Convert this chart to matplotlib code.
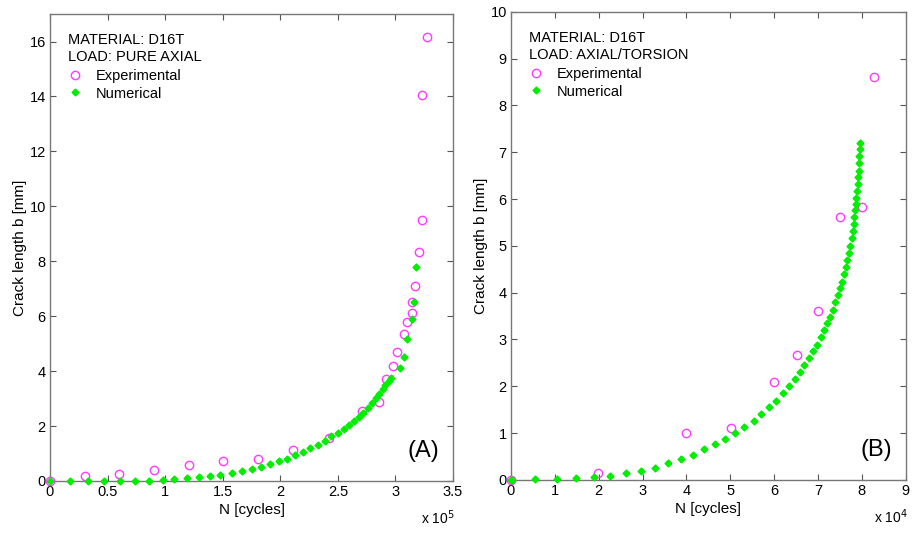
import matplotlib.pyplot as plt

plt.rcParams['font.family'] = ['Liberation Sans', 'DejaVu Sans']

# ===== Panel A: pure axial (N in units of 1e5 cycles) =====
a_exp_n = [0.0, 0.307, 0.60, 0.905, 1.21, 1.50, 1.81, 2.11, 2.42, 2.71, 2.86,
           2.92, 2.98, 3.01, 3.07, 3.10, 3.14, 3.14, 3.17, 3.20, 3.23, 3.23, 3.27]
a_exp_b = [0.0, 0.17, 0.27, 0.41, 0.57, 0.74, 0.81, 1.14, 1.58, 2.56, 2.89,
           3.71, 4.20, 4.69, 5.35, 5.77, 6.11, 6.51, 7.11, 8.33, 9.50, 14.05, 16.18]

a_num_n = [0.0, 0.17, 0.33, 0.47, 0.61, 0.74, 0.86, 0.98, 1.08, 1.19, 1.29, 1.39,
           1.48, 1.58, 1.67, 1.75, 1.83, 1.91, 1.99, 2.06, 2.13, 2.20, 2.26, 2.33,
           2.39, 2.44, 2.50, 2.55, 2.60, 2.64, 2.68, 2.72, 2.76, 2.80, 2.83, 2.86,
           2.89, 2.91, 2.94, 2.96, 3.04, 3.07, 3.10, 3.14, 3.16, 3.18]
a_num_b = [0.0, 0.0, 0.0, 0.0, 0.0, 0.0, 0.01, 0.04, 0.07, 0.11, 0.13, 0.17,
           0.23, 0.29, 0.35, 0.42, 0.51, 0.61, 0.72, 0.80, 0.93, 1.07, 1.19, 1.32,
           1.47, 1.63, 1.76, 1.90, 2.05, 2.20, 2.32, 2.49, 2.67, 2.84, 3.01, 3.18,
           3.35, 3.51, 3.63, 3.74, 4.10, 4.50, 5.17, 5.90, 6.51, 7.80]

# ===== Panel B: axial/torsion (N in units of 1e4 cycles) =====
b_exp_n = [0.0, 1.99, 4.00, 5.01, 6.00, 6.51, 7.01, 7.51, 8.01, 8.27]
b_exp_b = [0.0, 0.15, 1.00, 1.10, 2.10, 2.67, 3.61, 5.61, 5.84, 8.60]

b_num_n = [0.0, 0.02, 0.56, 1.04, 1.48, 1.89, 2.26, 2.62, 2.96, 3.29, 3.59, 3.88,
           4.16, 4.41, 4.66, 4.89, 5.11, 5.32, 5.53, 5.71, 5.89, 6.05, 6.20, 6.34,
           6.47, 6.59, 6.69, 6.80, 6.89, 6.98, 7.07, 7.14, 7.21, 7.27, 7.33, 7.39,
           7.45, 7.49, 7.54, 7.59, 7.63, 7.66, 7.70, 7.74, 7.77, 7.79, 7.81, 7.83,
           7.85, 7.86, 7.87, 7.89, 7.90, 7.91, 7.93, 7.93, 7.94, 7.95, 7.96]
b_num_b = [0.0, 0.0, 0.01, 0.02, 0.04, 0.06, 0.09, 0.14, 0.19, 0.26, 0.36, 0.44,
           0.54, 0.65, 0.76, 0.87, 1.00, 1.12, 1.25, 1.40, 1.55, 1.69, 1.85, 2.00,
           2.15, 2.30, 2.45, 2.60, 2.76, 2.89, 3.05, 3.20, 3.35, 3.49, 3.64, 3.81,
           3.96, 4.09, 4.23, 4.39, 4.55, 4.70, 4.85, 5.00, 5.17, 5.31, 5.46, 5.62,
           5.76, 5.90, 6.03, 6.17, 6.32, 6.47, 6.61, 6.77, 6.93, 7.08, 7.20]

a_xticks = [0, 0.5, 1, 1.5, 2, 2.5, 3, 3.5]
a_yticks = [0, 2, 4, 6, 8, 10, 12, 14, 16]
b_xticks = [0, 1, 2, 3, 4, 5, 6, 7, 8, 9]
b_yticks = [0, 1, 2, 3, 4, 5, 6, 7, 8, 9, 10]

mag = '#ff3cff'
grn = '#00ee00'

fig = plt.figure(figsize=(9.14, 5.41), dpi=100)
ax1 = fig.add_axes([0.0547, 0.111, 0.441, 0.863])
ax2 = fig.add_axes([0.559, 0.113, 0.432, 0.865])


def style(ax, exp_n, exp_b, num_n, num_b, xticks, yticks, xlim, ylim,
          load, tag, power):
    ax.plot(exp_n, exp_b, 'o', ls='none', mfc='none', mec=mag, ms=6, mew=1.0,
            label='Experimental', clip_on=False, zorder=3)
    ax.plot(num_n, num_b, 'D', ls='none', mfc=grn, mec=grn, ms=3.5,
            label='Numerical', clip_on=False, zorder=4)
    ax.set_xlim(*xlim)
    ax.set_ylim(*ylim)
    ax.set_xticks(xticks)
    ax.set_xticklabels([f'{t:g}' for t in xticks])
    ax.set_yticks(yticks)
    ax.set_yticklabels([f'{t:g}' for t in yticks])
    ax.tick_params(direction='in', top=True, right=True, length=4,
                   color='#555555', labelsize=10.5, pad=3)
    for s in ax.spines.values():
        s.set_color('#777777')
        s.set_linewidth(1.0)
    ax.set_xlabel('N [cycles]', fontsize=11, labelpad=3)
    ax.set_ylabel('Crack length b [mm]', fontsize=11, labelpad=2)
    ax.text(0.045, 0.945, 'MATERIAL: D16T', transform=ax.transAxes,
            fontsize=10.5, va='center')
    ax.text(0.045, 0.907, 'LOAD: ' + load, transform=ax.transAxes,
            fontsize=10.5, va='center')
    ax.legend(loc='upper left', bbox_to_anchor=(0.02, 0.895), frameon=False,
              fontsize=10.5, handletextpad=0.7, labelspacing=0.25,
              borderaxespad=0, handlelength=1.5)
    ax.text(0.965, 0.04, tag, transform=ax.transAxes, fontsize=17,
            ha='right', va='bottom')
    ax.text(1.005, -0.058, r'x 10$^{%d}$' % power, transform=ax.transAxes,
            fontsize=10, ha='right', va='top')


style(ax1, a_exp_n, a_exp_b, a_num_n, a_num_b, a_xticks, a_yticks,
      (0, 3.5), (0, 17), 'PURE AXIAL', '(A)', 5)
style(ax2, b_exp_n, b_exp_b, b_num_n, b_num_b, b_xticks, b_yticks,
      (0, 9), (0, 10), 'AXIAL/TORSION', '(B)', 4)

fig.savefig('out.png', dpi=100)
